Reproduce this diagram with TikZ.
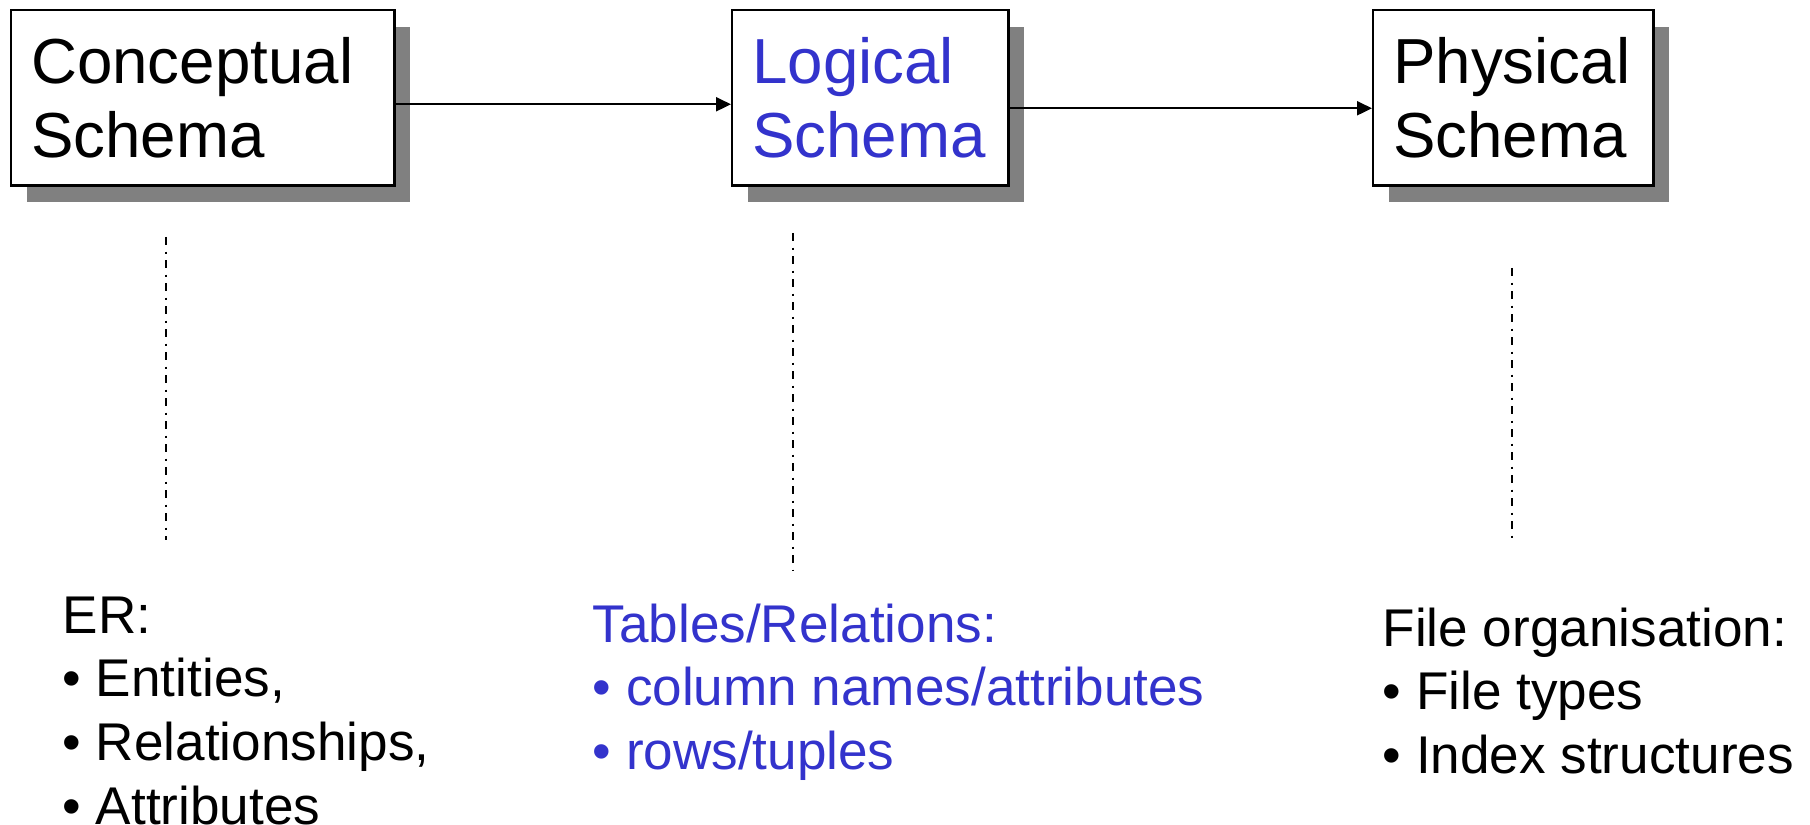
\documentclass[tikz,border=0pt]{standalone}
\usepackage{fontspec}
\setmainfont{Liberation Sans}
\usepackage{tikz}
\usetikzlibrary{shapes,arrows.meta,positioning,calc,shadows}
\definecolor{schemablue}{RGB}{51,51,204}
\definecolor{shadowgrey}{RGB}{128,128,128}

\tikzset{
    schemabox/.style={rectangle, draw=black, line width=0.7pt, fill=white,
        anchor=north west, inner xsep=0.2cm, inner ysep=0pt,
        minimum height=1.75cm, align=left,
        font=\fontsize{18.1}{21.3}\selectfont,
        drop shadow={shadow xshift=0.16cm, shadow yshift=-0.165cm,
            fill=shadowgrey, opacity=1}},
    flow/.style={-{Triangle[length=0.15cm,width=0.14cm]}, line width=0.6pt},
    guide/.style={line width=0.6pt,
        dash pattern=on 0.08cm off 0.065cm on 0.02cm off 0.065cm},
    notes/.style={anchor=north west, align=left, inner sep=0pt,
        font=\fontsize{15.1}{18.1}\selectfont}
}

\begin{document}
\begin{tikzpicture}[x=0.01cm, y=-0.01cm]
        \useasboundingbox (0,0) rectangle (1810,825);

        % the three levels of schema
        \node[schemabox, text width=3.43cm] (concept) at (10,9) {Conceptual\\Schema};
        \node[schemabox, text width=2.36cm, text=schemablue] (logic) at (731,9) {Logical\\Schema};
        \node[schemabox, text width=2.40cm] (phys) at (1372,9) {Physical\\Schema};

        \draw[flow] ([yshift=-0.065cm]concept.east) -- ([yshift=-0.065cm]logic.west);
        \draw[flow] ([yshift=-0.105cm]logic.east) -- ([yshift=-0.105cm]phys.west);

        % what each level is made of
        \node[notes] (erlist) at (62,596) {ER:\\•~Entities,\\•~Relationships,\\•~Attributes};
        \node[notes, text=schemablue] (tables) at (592,603) {Tables/Relations:\\•~column names/attributes\\•~rows/tuples};
        \node[notes] (files) at (1382,607) {File organisation:\\•~File types\\•~Index structures};

        \coordinate (g1top) at (166,237);
        \coordinate (g1bot) at (166,540);
        \coordinate (g2top) at (793,233);
        \coordinate (g2bot) at (793,570);
        \coordinate (g3top) at (1512,268);
        \coordinate (g3bot) at (1512,538);
        \draw[guide] (g1top) -- (g1bot);
        \draw[guide] (g2top) -- (g2bot);
        \draw[guide] (g3top) -- (g3bot);
    \end{tikzpicture}
\end{document}
